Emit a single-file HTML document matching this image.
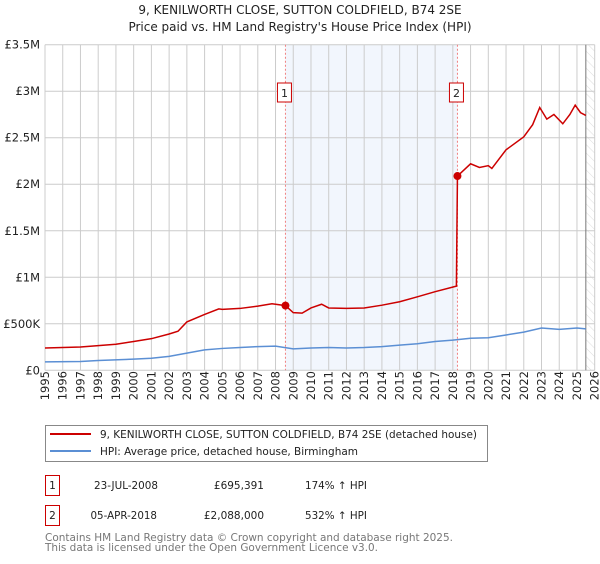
<!DOCTYPE html>
<html><head><meta charset="utf-8"><style>
body{margin:0;background:#fff;font-family:"DejaVu Sans","Liberation Sans",sans-serif;}
svg text{font-family:"DejaVu Sans","Liberation Sans",sans-serif;}
</style></head><body>
<svg id="chart" width="600" height="560" viewBox="0 0 600 560" xmlns="http://www.w3.org/2000/svg">
<defs><pattern id="hatch" width="6" height="6" patternUnits="userSpaceOnUse" patternTransform="rotate(-45)"><line x1="0" y1="0" x2="0" y2="6" stroke="#ddd" stroke-width="1"/></pattern></defs>
<text x="300" y="14" text-anchor="middle" font-size="12" fill="#222">9, KENILWORTH CLOSE, SUTTON COLDFIELD, B74 2SE</text>
<text x="300" y="31" text-anchor="middle" font-size="12" fill="#222">Price paid vs. HM Land Registry's House Price Index (HPI)</text>
<g id="bg"></g><g id="grid"></g><g id="series"></g><g id="axes"></g>
<rect x="45.5" y="425.5" width="442" height="36" fill="#fff" stroke="#888"/>
<line x1="50" y1="434" x2="91" y2="434" stroke="#cc0000" stroke-width="2"/>
<text x="100" y="438" font-size="10.5" fill="#222" textLength="377" lengthAdjust="spacingAndGlyphs">9, KENILWORTH CLOSE, SUTTON COLDFIELD, B74 2SE (detached house)</text>
<line x1="50" y1="451" x2="91" y2="451" stroke="#5b8fd4" stroke-width="2"/>
<text x="100" y="455" font-size="10.5" fill="#222" textLength="258" lengthAdjust="spacingAndGlyphs">HPI: Average price, detached house, Birmingham</text>
<g font-size="10.5" fill="#222">
<rect x="45.5" y="475.5" width="14" height="20" fill="#fff" stroke="#cc0000"/>
<text x="52.5" y="489" text-anchor="middle">1</text>
<text x="94" y="489" textLength="64" lengthAdjust="spacingAndGlyphs">23-JUL-2008</text>
<text x="264" y="489" text-anchor="end">£695,391</text>
<text x="305" y="489" textLength="62" lengthAdjust="spacingAndGlyphs">174% ↑ HPI</text></g>
<g font-size="10.5" fill="#222">
<rect x="45.5" y="505.5" width="14" height="20" fill="#fff" stroke="#cc0000"/>
<text x="52.5" y="519" text-anchor="middle">2</text>
<text x="90.5" y="519" textLength="66.5" lengthAdjust="spacingAndGlyphs">05-APR-2018</text>
<text x="264" y="519" text-anchor="end">£2,088,000</text>
<text x="305" y="519" textLength="62" lengthAdjust="spacingAndGlyphs">532% ↑ HPI</text></g>
<text x="45" y="541" font-size="10.5" fill="#777" textLength="408" lengthAdjust="spacingAndGlyphs">Contains HM Land Registry data © Crown copyright and database right 2025.</text>
<text x="45" y="551" font-size="10.5" fill="#777" textLength="333" lengthAdjust="spacingAndGlyphs">This data is licensed under the Open Government Licence v3.0.</text>
</svg>
<script>
const propYears=[1995,1996,1997,1998,1999,2000,2001,2002,2002.5,2003,2004,2004.8,2005,2006,2007,2007.8,2008.56,2009,2009.5,2010,2010.6,2011,2012,2013,2014,2015,2016,2017,2018.2,2018.26,2019,2019.5,2020,2020.2,2021,2022,2022.5,2022.9,2023.3,2023.7,2024.2,2024.6,2024.9,2025.2,2025.5];
const propValues=[240000,245000,250000,265000,280000,310000,340000,390000,420000,520000,600000,660000,655000,665000,690000,715000,695391,620000,615000,670000,710000,670000,665000,670000,700000,737000,790000,845000,905000,2088000,2220000,2180000,2200000,2170000,2370000,2510000,2640000,2825000,2700000,2750000,2650000,2750000,2850000,2770000,2740000];
const hpiYears=[1995,1997,1998,2000,2001,2002,2003,2004,2005,2006,2007,2008,2009,2010,2011,2012,2013,2014,2015,2016,2017,2018,2019,2020,2021,2022,2023,2024,2025,2025.5];
const hpiValues=[90000,95000,105000,120000,130000,150000,185000,220000,235000,245000,255000,260000,230000,240000,245000,240000,245000,255000,270000,285000,310000,325000,345000,350000,380000,410000,455000,440000,455000,445000];
const saleYears=[2008.56,2018.26];
const saleValues=[695391,2088000];
const saleLabels=["1","2"];
const yTicks=[0,500000,1000000,1500000,2000000,2500000,3000000,3500000];
const yTickLabels=["£0","£500K","£1M","£1.5M","£2M","£2.5M","£3M","£3.5M"];
const xStart=1995,xEnd=2026;
const L=45,R=594.7,T=44.7,B=370.3,yMax=3500000;
const X=y=>L+(y-xStart)/(xEnd-xStart)*(R-L);
const Y=v=>B-v/yMax*(B-T);
const NS="http://www.w3.org/2000/svg";
function mk(tag,attrs,parent){const e=document.createElementNS(NS,tag);for(const k in attrs)e.setAttribute(k,attrs[k]);document.getElementById(parent).appendChild(e);return e;}
let e;
e=mk('rect',{x:X(saleYears[0]),y:T,width:X(saleYears[1])-X(saleYears[0]),height:B-T,fill:'#f2f6fd'},'bg');


e=mk('rect',{x:X(2025.5),y:T,width:R-X(2025.5),height:B-T,fill:'url(#hatch)'},'bg');


for(let yr=xStart;yr<=xEnd;yr++){
 e=mk('line',{x1:X(yr),x2:X(yr),y1:T,y2:B,stroke:'#ccc','stroke-width':1},'grid');
 
 
 const t=mk('text',{x:0,y:0,transform:`translate(${X(yr)+4},${B+30}) rotate(-90)`,'font-size':11.5,fill:'#222'},'axes');
 t.textContent=yr;
 
 
}
yTicks.forEach((v,i)=>{
 e=mk('line',{x1:L,x2:R,y1:Y(v),y2:Y(v),stroke:'#ccc','stroke-width':1},'grid');
 
 
 const t=mk('text',{x:L-5,y:Y(v)+4,'text-anchor':'end','font-size':11.5,fill:'#222'},'axes');
 t.textContent=yTickLabels[i];
 
 
});
e=mk('line',{x1:X(2025.5),x2:X(2025.5),y1:T,y2:B,stroke:'#777','stroke-width':1},'grid');


saleYears.forEach((yr,i)=>{
 e=mk('line',{x1:X(yr),x2:X(yr),y1:T,y2:B,stroke:'#f08080','stroke-width':1,'stroke-dasharray':'2,2'},'series');
 
 
 e=mk('rect',{x:X(yr)-8,y:83,width:14,height:19,fill:'#fff',stroke:'#cc0000'},'axes');
 
 
 const t=mk('text',{x:X(yr)-1,y:97,'text-anchor':'middle','font-size':11,fill:'#222'},'axes');
 t.textContent=saleLabels[i];
 
 
});
e=mk('polyline',{points:hpiYears.map((y,i)=>X(y)+','+Y(hpiValues[i])).join(' '),fill:'none',stroke:'#5b8fd4','stroke-width':1.5},'series');


e=mk('polyline',{points:propYears.map((y,i)=>X(y)+','+Y(propValues[i])).join(' '),fill:'none',stroke:'#cc0000','stroke-width':1.5},'series');


saleYears.forEach((yr,i)=>{
 e=mk('circle',{cx:X(yr),cy:Y(saleValues[i]),r:4,fill:'#cc0000'},'series');
 
 
});
</script>
</body></html>
